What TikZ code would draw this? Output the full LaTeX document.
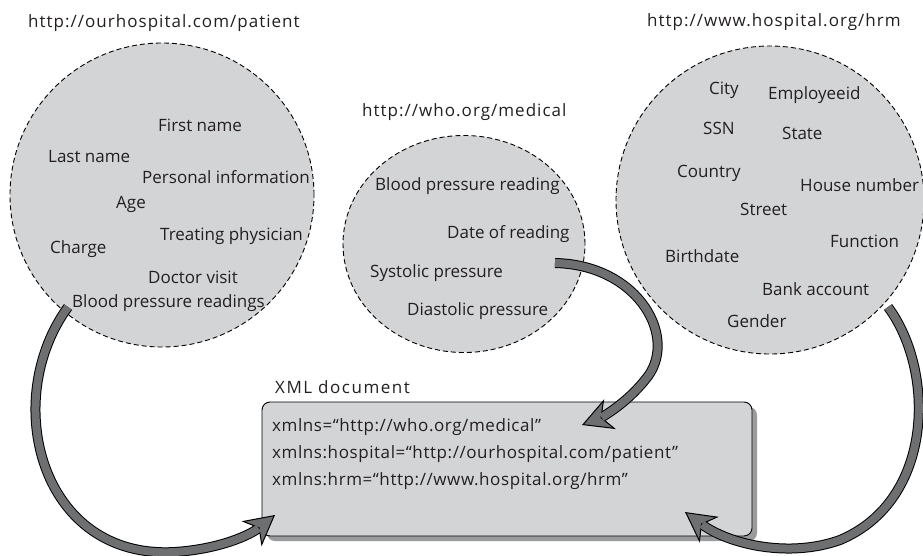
\documentclass[tikz,border=0pt]{standalone}
\usepackage{fontspec}
\setmainfont{Open Sans}
\usetikzlibrary{shapes.geometric,arrows.meta,shadows}
\definecolor{cfill}{HTML}{D3D4D6}
\definecolor{shadowc}{HTML}{9A9B9D}
\definecolor{arrowc}{HTML}{6E6F71}
\definecolor{txt}{HTML}{231F20}
\tikzset{
  lbl/.style={anchor=base west, inner sep=0pt, font=\fontsize{17}{20}\selectfont, text=txt},
  url/.style={lbl, font=\fontsize{17}{20}\selectfont\addfontfeatures{LetterSpace=6}},
  code/.style={lbl, font=\fontsize{17}{20}\selectfont\addfontfeatures{LetterSpace=3.4}},
  wide/.style={lbl, font=\fontsize{17}{20}\selectfont\addfontfeatures{LetterSpace=9}},
  ns/.style={draw=black, line width=0.9pt, dash pattern=on 5pt off 3pt, fill=cfill, inner sep=0pt},
  arrout/.style={draw=black, line width=10pt, -{Stealth[length=30pt, width=32pt, inset=9pt, fill=arrowc, line width=1pt]}},
  arrin/.style={draw=arrowc, line width=8pt, shorten >=21pt}
}
\begin{document}
\begin{tikzpicture}[x=1pt,y=-1pt]
\useasboundingbox (0,0) rectangle (923,556);
% namespaces
\node[ns, circle, minimum size=304pt] (pat) at (162,195) {};
\node[ns, ellipse, minimum width=242pt, minimum height=217pt] (who) at (464,244) {};
\node[ns, circle, minimum size=308pt] (hrm) at (770,200) {};
% titles
\node[url] (tpat) at (28,28) {http://ourhospital.com/patient};
\node[url] (twho) at (362,117) {http://who.org/medical};
\node[url] (thrm) at (647,27) {http://www.hospital.org/hrm};
% patient items
\node[lbl] (p1) at (158,132) {First name};
\node[lbl] (p2) at (48,163) {Last name};
\node[lbl] (p3) at (142,183) {Personal information};
\node[lbl] (p4) at (116,208) {Age};
\node[lbl] (p5) at (160,240) {Treating physician};
\node[lbl] (p6) at (50,253) {Charge};
\node[lbl] (p7) at (148,283) {Doctor visit};
\node[lbl] (p8) at (72,307) {Blood pressure readings};
% who items
\node[lbl] (w1) at (375,190) {Blood pressure reading};
\node[lbl] (w2) at (447,238) {Date of reading};
\node[lbl] (w3) at (370,277) {Systolic pressure};
\node[lbl] (w4) at (407,315) {Diastolic pressure};
% hrm items
\node[lbl] (h1) at (709,95) {City};
\node[lbl] (h2) at (768,100) {Employeeid};
\node[lbl] (h3) at (703,135) {SSN};
\node[lbl] (h4) at (782,140) {State};
\node[lbl] (h5) at (677,178) {Country};
\node[lbl] (h6) at (800,192) {House number};
\node[lbl] (h7) at (740,215) {Street};
\node[lbl] (h8) at (830,247) {Function};
\node[lbl] (h9) at (665,262) {Birthdate};
\node[lbl] (h10) at (762,295) {Bank account};
\node[lbl] (h11) at (727,327) {Gender};
% XML document
\node[wide] (xmltitle) at (275,393) {XML document};
\node[draw=black, line width=0.9pt, fill=cfill, rounded corners=8pt, minimum width=490pt, minimum height=134pt, inner sep=0pt,
  drop shadow={shadow xshift=5pt, shadow yshift=-5pt, fill=shadowc, opacity=1}] (doc) at (507,469) {};
\node[code] (x1) at (272,431) {xmlns=“http://who.org/medical”};
\node[code] (x2) at (272,458) {xmlns:hospital=“http://ourhospital.com/patient”};
\node[code] (x3) at (272,485) {xmlns:hrm=“http://www.hospital.org/hrm”};
% arrow end points
\coordinate (ls) at (68,307);
\coordinate (lt) at (275,515);
\coordinate (ms) at (555,263);
\coordinate (mt) at (582,425);
\coordinate (rs) at (888,307);
\coordinate (rt) at (685,512);
% arrows
\draw[arrout] (ls) .. controls (0,400) and (40,560) .. (175,552) .. controls (220,549) and (250,535) .. (lt);
\draw[arrin] (ls) .. controls (0,400) and (40,560) .. (175,552) .. controls (220,549) and (250,535) .. (lt);
\draw[arrout] (ms) .. controls (640,265) and (680,340) .. (645,380) .. controls (625,405) and (600,418) .. (mt);
\draw[arrin] (ms) .. controls (640,265) and (680,340) .. (645,380) .. controls (625,405) and (600,418) .. (mt);
\draw[arrout] (rs) .. controls (935,370) and (935,500) .. (840,540) .. controls (790,558) and (730,545) .. (rt);
\draw[arrin] (rs) .. controls (935,370) and (935,500) .. (840,540) .. controls (790,558) and (730,545) .. (rt);
\end{tikzpicture}
\end{document}
